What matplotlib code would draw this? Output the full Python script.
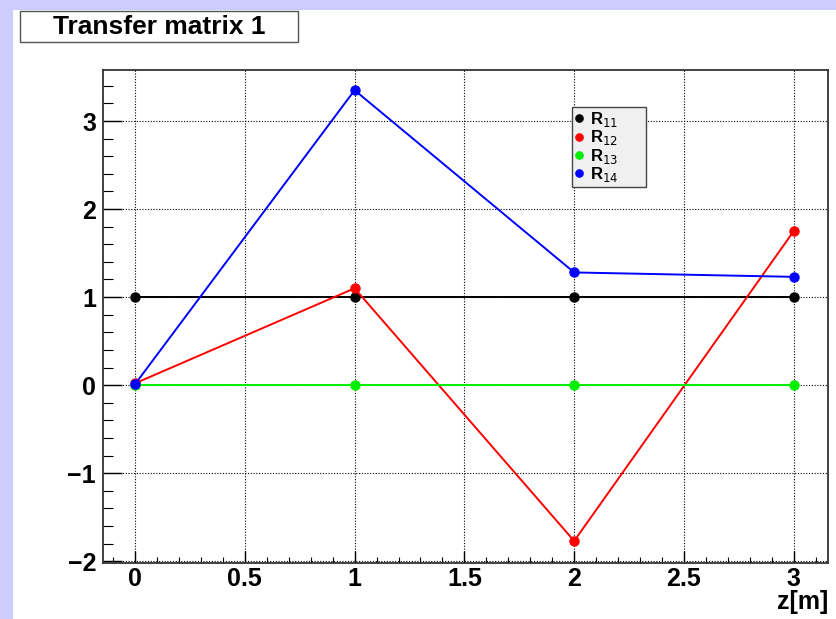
import matplotlib
matplotlib.use("Agg")
import matplotlib.pyplot as plt
from matplotlib.patches import Rectangle
from matplotlib.ticker import MultipleLocator

plt.rcParams['font.family'] = ['Liberation Sans', 'DejaVu Sans']

# values
z = [0, 1, 2, 3]
r11 = [1.0, 1.0, 1.0, 1.0]
r12 = [0.02, 1.10, -1.77, 1.75]
r13 = [0.0, 0.0, 0.0, 0.0]
r14 = [0.01, 3.35, 1.28, 1.23]

series = [
    (r11, 'black', r'R$_{11}$'),
    (r12, '#ff0000', r'R$_{12}$'),
    (r13, '#00ee00', r'R$_{13}$'),
    (r14, '#0000ff', r'R$_{14}$'),
]

W, H = 837, 619
fig = plt.figure(figsize=(W / 100, H / 100), dpi=100, facecolor='#ccccff')
# white canvas pad (ROOT style border at left and top)
fig.patches.append(Rectangle((13 / W, 0), 1, 1 - 10 / H, transform=fig.transFigure,
                             facecolor='white', edgecolor='none', zorder=-5))

ax = fig.add_axes([0.123, 0.0905, 0.866, 0.7965])
ax.set_facecolor('white')

for vals, col, lab in series:
    ax.plot(z, vals, '-', color=col, lw=1.4, marker='o', ms=6.5, label=lab, zorder=3)

ax.set_xlim(-0.146, 3.155)
ax.set_ylim(-2.02, 3.58)

ax.xaxis.set_major_locator(MultipleLocator(0.5))
ax.xaxis.set_minor_locator(MultipleLocator(0.1))
ax.yaxis.set_major_locator(MultipleLocator(1))
ax.yaxis.set_minor_locator(MultipleLocator(0.2))
ax.xaxis.set_major_formatter(plt.FuncFormatter(lambda v, p: f"{v:g}"))
ax.yaxis.set_major_formatter(plt.FuncFormatter(lambda v, p: f"\u2212{abs(v):g}" if v < 0 else f"{v:g}"))

ax.tick_params(axis='x', which='major', direction='in', length=9, width=1, labelsize=18, pad=3)
ax.tick_params(axis='x', which='minor', direction='in', length=4.5, width=0.8)
ax.tick_params(axis='y', which='major', direction='in', length=14, width=1, labelsize=18, pad=5)
ax.tick_params(axis='y', which='minor', direction='in', length=7, width=0.8)
for lbl in ax.get_xticklabels() + ax.get_yticklabels():
    lbl.set_fontweight('bold')

ax.grid(True, which='major', color='black', linestyle=(0, (1, 1.5)), linewidth=0.8)
for sp in ax.spines.values():
    sp.set_color('#333333')
    sp.set_linewidth(1.3)

ax.text(1.0, -0.055, 'z[m]', transform=ax.transAxes, ha='right', va='top',
        fontsize=18, fontweight='bold')

leg = ax.legend(loc='upper left', bbox_to_anchor=(0.647, 0.0, 0.102, 0.925), mode='expand',
                fontsize=12, frameon=True, fancybox=False, handlelength=0.5,
                handletextpad=0.4, borderpad=0.2, labelspacing=-0.05,
                borderaxespad=0, markerscale=0.8)
leg.get_frame().set_facecolor('#f0f0f0')
leg.get_frame().set_edgecolor('#444444')
leg.get_frame().set_alpha(1)
for h in leg.legend_handles:
    h.set_linestyle('none')
for t in leg.get_texts():
    t.set_fontweight('bold')

# title box
fig.patches.append(Rectangle((20 / W, 1 - 42 / H), 278 / W, 31 / H, transform=fig.transFigure,
                             facecolor='white', edgecolor='#555555', lw=1, zorder=2))
fig.text(159 / W, 1 - 27 / H, 'Transfer matrix 1', ha='center', va='center',
         fontsize=19, fontweight='bold', zorder=3)

fig.savefig('out.png', dpi=100, facecolor=fig.get_facecolor())
